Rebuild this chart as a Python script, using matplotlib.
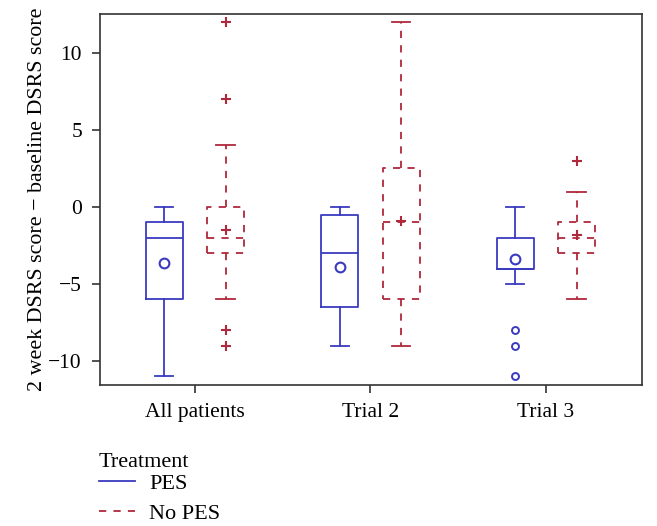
import numpy as np
import matplotlib.pyplot as plt
from matplotlib.lines import Line2D

plt.rcParams['font.family'] = ['Liberation Serif', 'DejaVu Serif']

groups = ["All patients", "Trial 2", "Trial 3"]

# PES box stats: whislo, q1, med, q3, whishi, mean, outliers
pes_whislo = [-11, -9, -5]
pes_q1 = [-6, -6.5, -4]
pes_med = [-2, -3, -4]
pes_q3 = [-1, -0.5, -2]
pes_whishi = [0, 0, 0]
pes_mean = [-3.65, -3.9, -3.35]
pes_fliers = [[], [], [-8, -9, -11]]

# No PES box stats
nopes_whislo = [-6, -9, -6]
nopes_q1 = [-3, -6, -3]
nopes_med = [-2, -1, -2]
nopes_q3 = [0, 2.5, -1]
nopes_whishi = [4, 12, 1]
nopes_mean = [-1.5, -0.9, -1.85]
nopes_fliers = [[12, 7, -8, -9], [], [3]]

blue = "#3a3ac0"
red = "#b0283c"


def make_stats(lo, q1, med, q3, hi, mean, fl):
    return [dict(whislo=lo[i], q1=q1[i], med=med[i], q3=q3[i], whishi=hi[i],
                 mean=mean[i], fliers=fl[i]) for i in range(len(lo))]


fig = plt.figure(figsize=(6.57, 5.26), dpi=100)
ax = fig.add_axes([100 / 657, 1 - 385 / 526, 542 / 657, 371 / 526])

pos = np.arange(1, len(groups) + 1)
off = 0.175
w = 0.21

ax.bxp(make_stats(pes_whislo, pes_q1, pes_med, pes_q3, pes_whishi, pes_mean, pes_fliers),
       positions=pos - off, widths=w, capwidths=w / 2, showmeans=True,
       boxprops=dict(color=blue, lw=1.3), whiskerprops=dict(color=blue, lw=1.3),
       capprops=dict(color=blue, lw=1.3), medianprops=dict(color=blue, lw=1.3),
       meanprops=dict(marker='o', markerfacecolor='none', markeredgecolor=blue,
                      markersize=7, markeredgewidth=1.5),
       flierprops=dict(marker='o', markerfacecolor='none', markeredgecolor=blue,
                       markersize=5, markeredgewidth=1.4))

dash = (0, (4, 4))
ax.bxp(make_stats(nopes_whislo, nopes_q1, nopes_med, nopes_q3, nopes_whishi, nopes_mean, nopes_fliers),
       positions=pos + off, widths=w, capwidths=w / 2, showmeans=True,
       boxprops=dict(color=red, lw=1.3, linestyle=dash),
       whiskerprops=dict(color=red, lw=1.3, linestyle=dash),
       capprops=dict(color=red, lw=1.3), medianprops=dict(color=red, lw=1.3, linestyle=dash),
       meanprops=dict(marker='+', markeredgecolor=red, markersize=7, markeredgewidth=1.5),
       flierprops=dict(marker='+', markeredgecolor=red, markersize=7, markeredgewidth=1.5))

ax.set_xlim(0.459, 3.547)
ax.set_ylim(-11.56, 12.53)
ax.set_xticks(pos)
ax.set_xticklabels(groups, fontsize=15.5)
ax.set_yticks([-10, -5, 0, 5, 10])
ax.set_yticklabels(["\u221210", "\u22125", "0", "5", "10"], fontsize=15.5)
ax.tick_params(direction='out', length=6, width=1.2, color="#333333", pad=7)
for s in ax.spines.values():
    s.set_color("#333333")
    s.set_linewidth(1.2)
ax.set_ylabel("2 week DSRS score \u2212 baseline DSRS score", fontsize=15.8, labelpad=1)

# legend title drawn separately so the first entry sits close under it
fig.text(99 / 657, 1 - 467 / 526, "Treatment", fontsize=16, ha="left", va="baseline")
handles = [Line2D([], [], color=blue, lw=1.3),
           Line2D([], [], color=red, lw=1.3, linestyle=dash)]
leg = fig.legend(handles, ["PES", "No PES"],
                 loc="upper left", bbox_to_anchor=(99 / 657, 1 - 473 / 526),
                 frameon=False, fontsize=16,
                 handlelength=1.6, handletextpad=0.65, labelspacing=0.45,
                 borderpad=0, borderaxespad=0)

fig.savefig("out.png", dpi=100)
